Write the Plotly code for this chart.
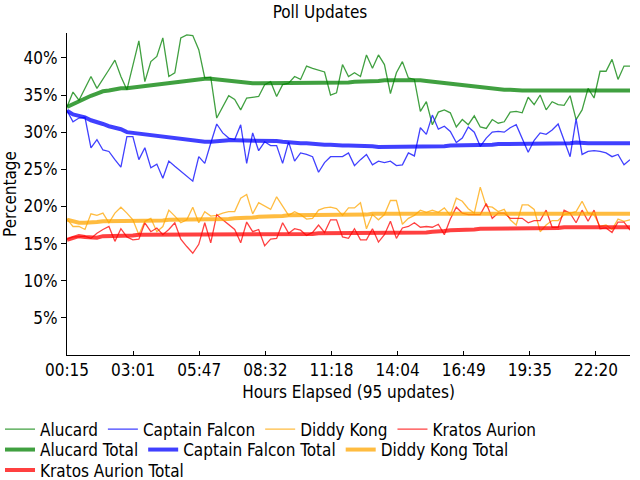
import plotly.graph_objects as go

# x: minutes since midnight for each of the 95 updates (every 15 minutes from 00:15)
minutes = [15 + 15 * i for i in range(95)]

tick_minutes = [15, 180.6, 346.2, 511.8, 677.4, 843.0, 1008.6, 1174.2, 1339.8]
tick_labels = ["00:15", "03:01", "05:47", "08:32", "11:18", "14:04", "16:49", "19:35", "22:20"]

y_tickvals = [5, 10, 15, 20, 25, 30, 35, 40]
y_ticktext = ["5%", "10%", "15%", "20%", "25%", "30%", "35%", "40%"]

alucard = [33.4, 35.4, 34.3, 36.0, 37.5, 35.9, 37.1, 38.4, 39.7, 37.5,
           35.7, 39.0, 42.3, 36.8, 39.5, 40.2, 42.7, 37.5, 38.0, 42.7,
           43.1, 43.0, 41.1, 37.3, 37.4, 31.9, 33.5, 34.9, 34.4, 33.0,
           34.6, 34.7, 34.8, 36.4, 36.8, 34.8, 36.4, 36.6, 37.5, 37.1,
           38.9, 38.6, 38.3, 38.1, 35.0, 35.3, 39.1, 37.5, 38.0, 37.5,
           40.4, 38.6, 40.4, 39.1, 35.2, 38.0, 39.5, 37.3, 37.1, 32.8,
           34.1, 31.0, 32.7, 33.0, 32.6, 30.7, 31.7, 31.0, 32.2, 30.7,
           30.5, 31.7, 31.2, 31.4, 32.7, 32.8, 32.6, 34.7, 33.7, 35.0,
           33.0, 34.1, 33.7, 33.6, 34.9, 31.7, 33.0, 35.9, 34.6, 38.2,
           38.2, 39.8, 37.1, 38.9, 38.9]

alucard_total = [33.4, 33.8, 34.1, 34.5, 34.9, 35.2, 35.5, 35.6, 35.8, 35.9,
                 35.9, 36.0, 36.2, 36.3, 36.4, 36.5, 36.6, 36.7, 36.8, 36.9,
                 37.0, 37.1, 37.1, 37.2, 37.2, 37.1, 37.0, 36.9, 36.8, 36.7,
                 36.7, 36.6, 36.6, 36.6, 36.6, 36.6, 36.6, 36.6, 36.7, 36.7,
                 36.7, 36.7, 36.7, 36.7, 36.7, 36.7, 36.7, 36.7, 36.8, 36.8,
                 36.8, 36.9, 36.9, 37.0, 37.0, 37.0, 37.1, 37.1, 37.1, 37.0,
                 36.9, 36.8, 36.7, 36.6, 36.5, 36.4, 36.3, 36.2, 36.1, 36.0,
                 35.9, 35.8, 35.8, 35.7, 35.7, 35.6, 35.6, 35.6, 35.6, 35.6,
                 35.6, 35.6, 35.5, 35.5, 35.5, 35.5, 35.5, 35.5, 35.5, 35.5,
                 35.5, 35.6, 35.6, 35.6, 35.6]

captain_falcon = [32.9, 31.4, 31.9, 32.0, 27.9, 29.0, 27.6, 27.4, 26.3, 25.3,
                  29.4, 29.4, 26.3, 27.9, 25.2, 25.7, 23.8, 26.1, 25.4, 24.7,
                  24.0, 23.4, 26.7, 25.8, 28.5, 31.1, 29.9, 29.2, 29.0, 31.0,
                  25.8, 29.9, 27.5, 28.7, 28.2, 28.2, 25.8, 28.7, 26.1, 27.2,
                  27.0, 26.7, 24.6, 25.9, 26.7, 26.7, 26.7, 27.2, 25.5, 26.3,
                  27.0, 25.6, 26.1, 25.9, 26.1, 25.5, 25.6, 27.2, 26.8, 30.6,
                  29.7, 32.3, 30.4, 30.8, 30.1, 28.6, 29.2, 30.7, 30.0, 28.1,
                  29.2, 30.0, 30.1, 30.0, 30.6, 31.0, 29.2, 27.3, 28.9, 29.9,
                  29.7, 30.3, 31.1, 28.8, 26.7, 31.8, 27.0, 27.4, 27.5, 27.4,
                  27.2, 26.7, 27.0, 25.6, 26.3]

captain_falcon_total = [32.9, 32.4, 32.2, 32.0, 31.6, 31.4, 31.1, 30.8, 30.6, 30.4,
                        30.0, 29.9, 29.8, 29.6, 29.5, 29.4, 29.3, 29.2, 29.1, 29.0,
                        29.0, 28.9, 28.8, 28.7, 28.7, 28.8, 28.9, 28.9, 28.9, 28.9,
                        28.9, 28.9, 28.9, 28.9, 28.8, 28.8, 28.7, 28.6, 28.6, 28.5,
                        28.5, 28.4, 28.4, 28.3, 28.3, 28.2, 28.2, 28.2, 28.2, 28.1,
                        28.1, 28.1, 28.0, 28.0, 28.0, 28.0, 28.0, 28.0, 28.0, 28.0,
                        28.0, 28.1, 28.1, 28.1, 28.2, 28.2, 28.2, 28.3, 28.3, 28.3,
                        28.3, 28.3, 28.4, 28.4, 28.4, 28.4, 28.4, 28.4, 28.4, 28.4,
                        28.5, 28.5, 28.5, 28.5, 28.5, 28.6, 28.5, 28.5, 28.5, 28.5,
                        28.5, 28.5, 28.5, 28.5, 28.5]

diddy_kong = [18.3, 17.3, 17.3, 16.9, 19.0, 18.8, 19.1, 17.8, 19.1, 19.9,
              19.1, 18.2, 16.2, 18.0, 18.4, 16.6, 17.3, 19.5, 18.7, 17.8,
              18.2, 19.9, 17.8, 19.3, 18.7, 18.8, 19.1, 19.3, 19.3, 21.1,
              21.6, 19.0, 20.5, 20.0, 19.6, 21.3, 20.0, 18.8, 19.3, 18.9,
              18.3, 18.4, 19.5, 19.8, 19.9, 19.7, 18.8, 19.8, 19.8, 20.5,
              17.0, 18.9, 18.2, 18.9, 20.8, 20.8, 17.6, 18.4, 18.8, 19.5,
              19.2, 19.5, 19.2, 19.8, 18.8, 21.1, 20.7, 19.7, 19.1, 22.6,
              20.0, 19.9, 19.3, 19.6, 18.2, 17.5, 20.2, 20.2, 19.6, 16.6,
              17.5, 18.1, 18.1, 18.9, 19.1, 19.3, 20.7, 19.1, 18.9, 17.3,
              17.5, 16.9, 18.3, 18.0, 18.2]

diddy_kong_total = [18.2, 18.0, 17.8, 17.8, 17.8, 17.9, 18.0, 18.0, 18.0, 18.1,
                    18.1, 18.1, 18.1, 18.1, 18.1, 18.1, 18.1, 18.2, 18.2, 18.2,
                    18.2, 18.2, 18.2, 18.2, 18.2, 18.3, 18.3, 18.3, 18.4, 18.4,
                    18.4, 18.5, 18.6, 18.6, 18.7, 18.7, 18.7, 18.8, 18.8, 18.8,
                    18.8, 18.8, 18.8, 18.8, 18.8, 18.9, 18.9, 18.9, 18.9, 18.9,
                    18.9, 19.0, 19.0, 19.0, 19.0, 19.0, 19.0, 19.0, 19.0, 19.0,
                    19.0, 19.0, 19.0, 19.0, 19.0, 19.0, 19.0, 19.0, 19.0, 19.0,
                    19.0, 19.0, 19.0, 19.0, 19.0, 19.0, 19.0, 19.0, 19.0, 19.0,
                    19.0, 19.0, 19.0, 19.0, 19.0, 19.0, 19.0, 19.0, 19.0, 19.0,
                    19.0, 19.0, 19.0, 19.0, 19.0]

kratos_aurion = [15.6, 15.9, 15.9, 16.0, 15.7, 16.4, 16.9, 17.3, 15.3, 17.0,
                 15.9, 15.5, 15.6, 17.8, 16.6, 17.1, 16.2, 16.9, 17.8, 15.6,
                 14.6, 13.7, 14.9, 17.8, 15.1, 18.9, 18.2, 17.5, 16.9, 15.1,
                 17.9, 16.6, 16.9, 14.7, 15.6, 15.7, 17.8, 16.4, 17.0, 16.8,
                 16.1, 16.5, 17.5, 16.5, 18.2, 18.2, 15.9, 15.7, 17.0, 15.5,
                 15.5, 17.0, 15.2, 16.2, 18.0, 15.7, 17.1, 17.3, 17.8, 17.2,
                 17.3, 17.2, 17.6, 16.2, 18.3, 19.9, 19.1, 18.9, 18.9, 18.9,
                 20.4, 18.4, 19.1, 19.1, 18.4, 18.4, 18.4, 17.8, 18.1, 18.1,
                 19.5, 17.2, 17.2, 19.5, 19.1, 17.8, 19.5, 18.0, 19.5, 17.0,
                 17.1, 16.5, 17.9, 17.9, 16.8]

kratos_aurion_total = [15.5, 15.7, 16.0, 15.9, 15.8, 15.8, 16.0, 16.0, 16.0, 16.0,
                       16.0, 16.1, 16.2, 16.2, 16.2, 16.2, 16.2, 16.2, 16.2, 16.2,
                       16.2, 16.2, 16.2, 16.2, 16.2, 16.3, 16.3, 16.3, 16.3, 16.3,
                       16.3, 16.3, 16.3, 16.3, 16.3, 16.3, 16.3, 16.3, 16.3, 16.3,
                       16.3, 16.3, 16.4, 16.4, 16.4, 16.4, 16.4, 16.4, 16.4, 16.5,
                       16.5, 16.5, 16.5, 16.5, 16.5, 16.5, 16.5, 16.5, 16.5, 16.5,
                       16.5, 16.6, 16.6, 16.7, 16.8, 16.8, 16.9, 16.9, 16.9, 17.0,
                       17.0, 17.0, 17.0, 17.0, 17.1, 17.1, 17.1, 17.1, 17.1, 17.1,
                       17.1, 17.1, 17.1, 17.2, 17.2, 17.2, 17.2, 17.2, 17.2, 17.2,
                       17.2, 17.2, 17.2, 17.2, 17.2]

GREEN = "rgba(0,128,0,0.75)"
BLUE = "rgba(0,0,255,0.75)"
ORANGE = "rgba(255,165,0,0.75)"
RED = "rgba(255,0,0,0.75)"

FONT = "DejaVu Sans Condensed, Liberation Sans Narrow, Liberation Sans, sans-serif"

series = [
    ("Alucard", alucard, GREEN, 1.3, "legend"),
    ("Captain Falcon", captain_falcon, BLUE, 1.3, "legend"),
    ("Diddy Kong", diddy_kong, ORANGE, 1.3, "legend"),
    ("Kratos Aurion", kratos_aurion, RED, 1.3, "legend"),
    ("Alucard Total", alucard_total, GREEN, 4, "legend2"),
    ("Captain Falcon Total", captain_falcon_total, BLUE, 4, "legend2"),
    ("Diddy Kong Total", diddy_kong_total, ORANGE, 4, "legend2"),
    ("Kratos Aurion Total", kratos_aurion_total, RED, 4, "legend3"),
]

fig = go.Figure()
for name, vals, color, width, leg in series:
    fig.add_trace(go.Scatter(x=minutes, y=vals, name=name, mode="lines",
                             line=dict(color=color, width=width),
                             legend=leg))

legend_common = dict(orientation="h", xref="container", yref="container",
                     xanchor="left", yanchor="middle", x=-0.006,
                     font=dict(family=FONT, size=17, color="black"),
                     bgcolor="rgba(0,0,0,0)", itemwidth=30)

fig.update_layout(
    width=640, height=480,
    margin=dict(l=67, r=10, t=33, b=125),
    paper_bgcolor="white", plot_bgcolor="white",
    font=dict(family=FONT, size=17, color="black"),
    title=dict(text="Poll Updates", xref="container", x=0.5, xanchor="center",
               yref="container", y=0.975, yanchor="middle",
               font=dict(family=FONT, size=17, color="black")),
    xaxis=dict(range=[15, 1425], tickmode="array", tickvals=tick_minutes,
               ticktext=tick_labels, ticks="inside", ticklen=4, tickcolor="black",
               showline=True, linecolor="black", linewidth=1, showgrid=False,
               zeroline=False, tickfont=dict(family=FONT, size=17),
               title=dict(text="Hours Elapsed (95 updates)", standoff=6,
                          font=dict(family=FONT, size=17))),
    yaxis=dict(range=[0, 43.35], tickmode="array", tickvals=y_tickvals,
               ticktext=y_ticktext, ticks="outside", ticklen=5, tickcolor="black",
               showline=True, linecolor="black", linewidth=1, showgrid=False,
               zeroline=False, tickfont=dict(family=FONT, size=17),
               title=dict(text="Percentage", standoff=3,
                          font=dict(family=FONT, size=17))),
    legend=dict(legend_common, y=1 - 429.5 / 480),
    legend2=dict(legend_common, y=1 - 450 / 480),
    legend3=dict(legend_common, y=1 - 470.5 / 480),
    showlegend=True,
)

fig.write_html("out.html")
